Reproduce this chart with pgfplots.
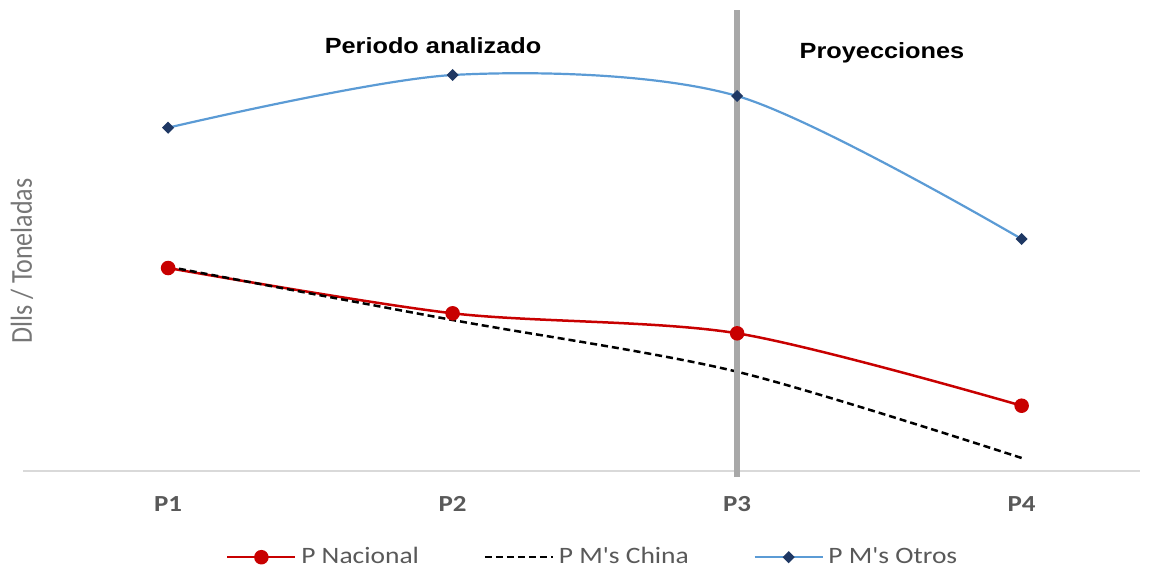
\documentclass[border=0pt]{standalone}
\usepackage{pgfplots}
\pgfplotsset{compat=1.18}
\usepackage{fontspec}
\setmainfont{Carlito}
\newfontfamily\arial{Liberation Sans}

\definecolor{pnac}{RGB}{200,0,0}
\definecolor{pblue}{RGB}{91,155,213}
\definecolor{pnavy}{RGB}{31,56,100}
\definecolor{vgray}{RGB}{168,168,168}
\definecolor{axgray}{RGB}{217,217,217}
\definecolor{ticktxt}{RGB}{89,89,89}
\definecolor{ylab}{RGB}{118,118,118}

\begin{document}
\begin{tikzpicture}
% canvas: 1 px of the reference = 0.5pt
\useasboundingbox (0,0) rectangle (575.5pt,-284.5pt);
\begin{axis}[
    at={(11.5pt,-235.5pt)}, anchor=south west,
    scale only axis, width=558.5pt, height=230.5pt,
    xmin=0.49, xmax=4.416, ymin=0, ymax=461,
    clip=false,
    hide y axis,
    axis x line=bottom,
    x axis line style={draw=axgray, line width=0.75pt, -},
    xtick={1,2,3,4}, xticklabels={P1,P2,P3,P4},
    major tick length=0pt,
    xticklabel style={anchor=center, yshift=-16.5pt, text=ticktxt,
        font=\fontsize{11.5}{12}\selectfont\bfseries, xscale=1.17},
    legend columns=3,
    legend style={at={(0.5112,-0.187)}, anchor=center, draw=none, fill=none,
        font=\fontsize{11.75}{13}\selectfont,
        nodes={text=ticktxt, xscale=1.17, inner ysep=1pt},
        /tikz/every even column/.append style={column sep=30pt}},
    legend image code/.code={\draw[mark repeat=2,mark phase=2]
        plot coordinates {(0pt,0pt) (17pt,0pt) (34pt,0pt)};},
]
\addplot[pnac, line width=1.25pt, smooth, mark=*, mark size=3pt,
    mark options={solid, fill=pnac}]
    coordinates {(1,203) (2,157.7) (3,137.7) (4,65.3)};
\addlegendentry{P Nacional}
\addplot[black, line width=1.25pt, smooth, dash pattern=on 3.5pt off 2pt]
    coordinates {(1,204.3) (2,151) (3,99.3) (4,13)};
\addlegendentry{P M\textquotesingle s China}
\addplot[pblue, line width=1.1pt, smooth, mark=square*, mark size=1.6pt,
    mark options={solid, rotate=45, draw=pnavy, fill=pnavy}]
    coordinates {(1,343.3) (2,396) (3,375) (4,232)};
\addlegendentry{P M\textquotesingle s Otros}
% separator between analysed period and projections
\addplot[vgray, line width=3pt, forget plot] coordinates {(3,-6) (3,461)};
\end{axis}
\node[anchor=base, font=\arial\bfseries\fontsize{11}{12}\selectfont, xscale=1.15]
    at (216.5pt,-26.5pt) {Periodo analizado};
\node[anchor=base, font=\arial\bfseries\fontsize{11}{12}\selectfont, xscale=1.15]
    at (441pt,-29pt) {Proyecciones};
\node[rotate=90, yscale=1.17, text=ylab, font=\fontsize{13}{14}\selectfont]
    at (11pt,-130.5pt) {Dlls / Toneladas};
\end{tikzpicture}
\end{document}
